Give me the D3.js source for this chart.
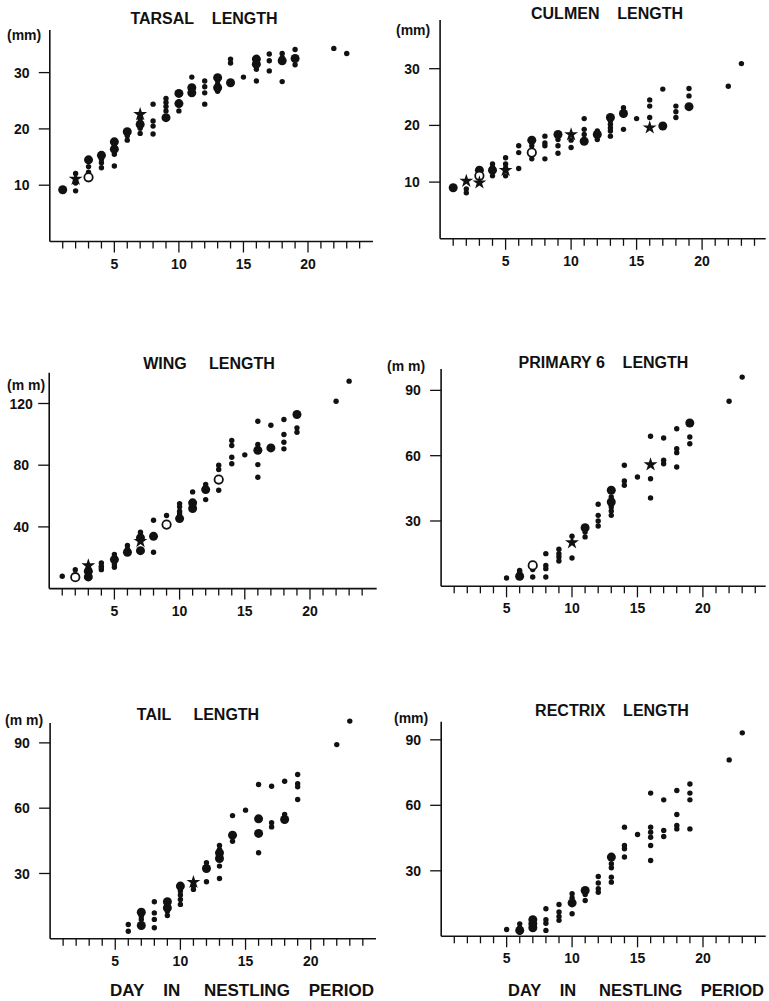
<!DOCTYPE html>
<html><head><meta charset="utf-8">
<script src="https://cdn.jsdelivr.net/npm/d3@7/dist/d3.min.js"></script>
<style>
html,body{margin:0;padding:0;background:#fff;}
svg{display:block;}
text{font-family:"Liberation Sans",Arial,sans-serif;font-weight:bold;fill:#111;}
</style></head>
<body>
<svg id="c" width="769" height="1001"></svg>
<script>
// ---- data: [day, mm, kind]  kind: s=small dot, L=large dot, o=open circle, *=star
const tarsal = [
[1,9.2,"L"],
[2,9.0,"s"],[2,10.4,"s"],[2,11.1,"*"],[2,12.1,"s"],
[3,11.4,"o"],[3,12.3,"s"],[3,13.3,"s"],[3,14.5,"L"],
[4,13.1,"s"],[4,14.0,"s"],[4,14.6,"s"],[4,15.3,"L"],
[5,13.4,"s"],[5,15.5,"s"],[5,16.4,"L"],[5,17.0,"s"],[5,17.7,"L"],
[6,18.0,"s"],[6,18.8,"s"],[6,19.5,"L"],
[7,19.2,"s"],[7,20.1,"s"],[7,20.8,"L"],[7,21.7,"s"],[7,22.6,"*"],
[8,19.1,"s"],[8,20.5,"s"],[8,21.4,"s"],[8,24.4,"s"],
[9,22.0,"L"],[9,23.2,"s"],[9,24.0,"s"],[9,24.7,"s"],[9,25.4,"s"],
[10,23.2,"s"],[10,24.5,"L"],[10,26.3,"L"],
[11,26.4,"L"],[11,26.9,"s"],[11,27.3,"L"],[11,29.2,"s"],
[12,24.4,"s"],[12,26.4,"s"],[12,27.5,"s"],[12,28.5,"s"],
[13,26.7,"s"],[13,27.3,"L"],[13,27.9,"s"],[13,28.5,"s"],[13,29.1,"L"],
[14,28.2,"L"],[14,31.7,"s"],[14,32.4,"s"],
[15,29.2,"s"],
[16,28.5,"s"],[16,30.6,"s"],[16,31.5,"L"],[16,32.4,"L"],
[17,30.3,"s"],[17,32.1,"s"],[17,33.3,"s"],
[18,28.4,"s"],[18,32.1,"L"],[18,32.7,"s"],[18,33.4,"s"],
[19,31.4,"s"],[19,32.5,"L"],[19,34.1,"s"],
[22,34.3,"s"],[23,33.4,"s"]
];
const culmen = [
[1,9.0,"L"],
[2,8.1,"s"],[2,8.8,"s"],[2,10.2,"*"],
[3,9.9,"*"],[3,11.1,"o"],[3,12.1,"L"],
[4,11.1,"s"],[4,12.1,"L"],[4,12.6,"s"],[4,13.2,"s"],
[5,11.1,"s"],[5,12.1,"*"],[5,12.5,"s"],[5,13.2,"s"],[5,14.3,"s"],
[6,12.4,"s"],[6,15.2,"s"],[6,16.4,"s"],
[7,14.1,"s"],[7,15.2,"o"],[7,16.4,"s"],[7,17.4,"L"],
[8,14.1,"s"],[8,16.4,"s"],[8,16.9,"s"],[8,18.1,"s"],
[9,15.1,"s"],[9,16.4,"s"],[9,17.5,"s"],[9,18.4,"L"],
[10,16.1,"s"],[10,17.4,"s"],[10,18.4,"*"],
[11,17.2,"L"],[11,18.4,"s"],[11,19.3,"s"],[11,21.2,"s"],
[12,17.5,"s"],[12,18.4,"L"],[12,19.0,"s"],
[13,18.1,"s"],[13,19.0,"s"],[13,19.6,"s"],[13,20.2,"s"],[13,20.8,"s"],[13,21.4,"L"],
[14,19.3,"s"],[14,22.1,"L"],[14,23.1,"s"],
[15,21.2,"s"],
[16,19.6,"*"],[16,21.4,"s"],[16,23.4,"s"],[16,24.5,"s"],
[17,19.9,"L"],[17,26.4,"s"],
[18,21.4,"s"],[18,22.4,"s"],[18,23.4,"s"],
[19,23.3,"L"],[19,25.2,"s"],[19,26.5,"s"],
[22,26.9,"s"],[23,30.9,"s"]
];
const wing = [
[1,8.0,"s"],
[2,7.4,"o"],[2,12.3,"s"],
[3,7.6,"L"],[3,9.5,"s"],[3,11.2,"L"],[3,14.9,"*"],
[4,12.3,"s"],[4,13.5,"s"],[4,14.5,"s"],[4,16.6,"s"],
[5,13.8,"s"],[5,15.6,"s"],[5,18.8,"L"],[5,22.1,"s"],
[6,23.6,"L"],[6,25.7,"s"],[6,27.9,"s"],
[7,24.6,"L"],[7,30.7,"*"],[7,32.9,"L"],[7,34.4,"s"],[7,36.5,"s"],
[8,23.6,"s"],[8,33.9,"L"],[8,44.3,"s"],
[9,41.5,"o"],[9,47.4,"s"],
[10,45.4,"L"],[10,48.6,"s"],[10,50.2,"s"],[10,53.0,"s"],[10,55.1,"s"],
[11,51.9,"L"],[11,55.6,"L"],[11,62.7,"s"],
[12,57.7,"s"],[12,64.2,"L"],[12,67.5,"s"],
[13,63.8,"s"],[13,70.7,"o"],[13,77.2,"s"],[13,80.0,"s"],
[14,80.9,"s"],[14,85.2,"s"],[14,92.8,"s"],[14,96.0,"s"],
[15,86.7,"s"],
[16,72.2,"s"],[16,80.4,"s"],[16,89.7,"L"],[16,93.4,"s"],[16,108.5,"s"],
[17,91.2,"L"],[17,105.9,"s"],
[18,90.6,"s"],[18,94.9,"s"],[18,99.9,"s"],[18,109.6,"s"],
[19,101.4,"s"],[19,104.2,"s"],[19,112.9,"L"],
[22,121.5,"s"],[23,134.5,"s"]
];
const primary6 = [
[5,3.8,"s"],
[6,4.6,"L"],[6,6.6,"s"],[6,7.3,"s"],
[7,4.3,"s"],[7,7.7,"s"],[7,9.6,"o"],
[8,4.3,"s"],[8,8.1,"s"],[8,9.6,"s"],[8,15.0,"s"],
[9,11.6,"s"],[9,13.5,"s"],[9,15.0,"s"],[9,17.0,"s"],
[10,13.0,"s"],[10,20.1,"*"],[10,23.0,"s"],
[11,22.7,"s"],[11,24.9,"s"],[11,26.9,"L"],
[12,27.7,"s"],[12,30.0,"s"],[12,32.6,"s"],[12,37.7,"s"],
[13,32.6,"s"],[13,34.6,"s"],[13,36.4,"s"],[13,38.7,"L"],[13,41.0,"s"],[13,44.1,"L"],
[14,46.4,"s"],[14,48.4,"s"],[14,55.6,"s"],
[15,50.2,"s"],
[16,40.6,"s"],[16,49.4,"s"],[16,55.9,"*"],[16,68.9,"s"],
[17,56.3,"s"],[17,57.9,"s"],[17,68.1,"s"],
[18,54.8,"s"],[18,61.4,"s"],[18,63.2,"s"],[18,72.4,"s"],
[19,65.5,"s"],[19,68.6,"s"],[19,75.0,"L"],
[22,85.0,"s"],[23,96.1,"s"]
];
const tail = [
[6,3.5,"s"],[6,6.6,"s"],
[7,6.1,"L"],[7,8.9,"s"],[7,10.4,"s"],[7,12.2,"L"],
[8,5.1,"s"],[8,8.9,"s"],[8,11.9,"s"],[8,17.0,"s"],
[9,10.7,"s"],[9,12.7,"s"],[9,14.2,"L"],[9,15.8,"s"],[9,17.0,"L"],
[10,15.8,"s"],[10,18.1,"s"],[10,20.1,"s"],[10,21.9,"s"],[10,24.2,"L"],
[11,22.7,"s"],[11,24.2,"s"],[11,26.0,"*"],
[12,26.2,"s"],[12,32.3,"L"],[12,34.9,"s"],
[13,27.7,"s"],[13,33.4,"s"],[13,36.9,"L"],[13,39.5,"L"],[13,41.0,"s"],[13,42.9,"s"],
[14,44.8,"s"],[14,47.6,"L"],[14,56.6,"s"],
[15,59.1,"s"],
[16,39.5,"s"],[16,48.4,"L"],[16,55.1,"L"],[16,70.9,"s"],
[17,51.4,"s"],[17,53.3,"s"],[17,70.1,"s"],
[18,54.8,"L"],[18,57.1,"s"],[18,72.4,"s"],
[19,64.0,"s"],[19,69.8,"s"],[19,71.2,"s"],[19,75.5,"s"],
[22,89.2,"s"],[23,100.0,"s"]
];
const rectrix = [
[5,3.1,"s"],
[6,1.9,"s"],[6,2.7,"L"],[6,3.9,"s"],[6,5.7,"s"],
[7,3.9,"L"],[7,5.7,"L"],[7,7.6,"L"],
[8,2.7,"s"],[8,6.0,"s"],[8,7.6,"s"],[8,12.6,"s"],
[9,7.3,"s"],[9,9.1,"s"],[9,11.1,"s"],[9,14.6,"s"],
[10,10.3,"s"],[10,15.3,"L"],[10,17.6,"s"],[10,19.5,"s"],
[11,16.4,"s"],[11,19.2,"s"],[11,21.0,"L"],
[12,20.2,"s"],[12,21.8,"s"],[12,24.4,"s"],[12,27.4,"s"],
[13,24.8,"s"],[13,27.1,"s"],[13,31.4,"s"],[13,33.2,"s"],[13,36.3,"L"],
[14,36.3,"s"],[14,40.1,"s"],[14,41.6,"s"],[14,50.0,"s"],
[15,46.6,"s"],
[16,34.7,"s"],[16,41.6,"s"],[16,45.4,"s"],[16,47.7,"s"],[16,50.0,"s"],[16,65.6,"s"],
[17,45.7,"s"],[17,48.5,"s"],[17,62.5,"s"],
[18,49.2,"s"],[18,50.8,"s"],[18,55.8,"s"],[18,66.8,"s"],
[19,49.2,"s"],[19,62.5,"s"],[19,65.6,"s"],[19,69.8,"s"],
[22,80.8,"s"],[23,93.2,"s"]
];

const titles = ["TARSAL\u00a0\u00a0\u00a0\u00a0LENGTH","CULMEN\u00a0\u00a0\u00a0\u00a0LENGTH","WING\u00a0\u00a0\u00a0\u00a0\u00a0LENGTH",
                "PRIMARY 6\u00a0\u00a0\u00a0\u00a0LENGTH","TAIL\u00a0\u00a0\u00a0\u00a0\u00a0LENGTH","RECTRIX\u00a0\u00a0\u00a0\u00a0LENGTH"];
const unitLabels = ["(mm)","(mm)","(m m)","(m m)","(m m)","(mm)"];
const yTicks = [[10,20,30],[10,20,30],[40,80,120],[30,60,90],[30,60,90],[30,60,90]];
const xTickLabels = [5,10,15,20];
const xMinorTicks = d3.range(1,25);
const xLabel = "DAY\u00a0\u00a0\u00a0\u00a0IN\u00a0\u00a0\u00a0\u00a0\u00a0NESTLING\u00a0\u00a0\u00a0\u00a0PERIOD";
const seriesData = [tarsal, culmen, wing, primary6, tail, rectrix];

// ---- layout (pixel geometry of each panel)
const layout = [
 {x0:49.8, dayW:12.91, y0:241.5, ppu:5.63,  yTop:30,    xEnd:373,   tx:204,   ty:23.5,  ux:7,   uy:40},
 {x0:440.1,dayW:13.1,  y0:238.8, ppu:5.67,  yTop:20,    xEnd:765.7, tx:607,   ty:18.5,  ux:396, uy:35},
 {x0:49.2, dayW:13.04, y0:588.6, ppu:1.5425,yTop:372.7, xEnd:376.7, tx:209,   ty:369,   ux:7,   uy:390},
 {x0:441.1,dayW:13.09, y0:586.3, ppu:2.177, yTop:369,   xEnd:765.7, tx:603.5, ty:367.5, ux:387, uy:371},
 {x0:50.1, dayW:13.03, y0:938.8, ppu:2.177, yTop:723,   xEnd:376,   tx:198,   ty:719.5, ux:5,   uy:725, xl:110, xw:264},
 {x0:441.2,dayW:13.09, y0:936.3, ppu:2.183, yTop:721.7, xEnd:765.7, tx:612,   ty:716,   ux:394, uy:723, xl:508, xw:256}
];

const svg = d3.select("#c");
const star = d3.symbol().type(d3.symbolStar).size(60);

seriesData.forEach((data, i) => {
  const L = layout[i];
  const xMax = (L.xEnd - L.x0) / L.dayW;
  const yMax = (L.y0 - L.yTop) / L.ppu;
  const x = d3.scaleLinear().domain([0, xMax]).range([L.x0, L.xEnd]);
  const y = d3.scaleLinear().domain([0, yMax]).range([L.y0, L.yTop]);
  const g = svg.append("g");

  // axes lines
  g.append("line").attr("x1", x(0)).attr("x2", x(xMax)).attr("y1", y(0)).attr("y2", y(0))
    .attr("stroke", "#111").attr("stroke-width", 1.6);
  g.append("line").attr("x1", x(0)).attr("x2", x(0)).attr("y1", y(0)).attr("y2", y(yMax))
    .attr("stroke", "#111").attr("stroke-width", 1.6);

  // x ticks
  g.selectAll(".xt").data(xMinorTicks).join("line")
    .attr("x1", d => x(d)).attr("x2", d => x(d))
    .attr("y1", y(0)).attr("y2", d => y(0) + (d % 5 === 0 ? 11 : 7))
    .attr("stroke", "#111").attr("stroke-width", 1.3);
  g.selectAll(".xl").data(xTickLabels).join("text")
    .attr("x", d => x(d)).attr("y", y(0) + 27)
    .attr("text-anchor", "middle").attr("font-size", 14).text(d => d);

  // y ticks
  g.selectAll(".yt").data(yTicks[i]).join("line")
    .attr("x1", x(0) - 11).attr("x2", x(0))
    .attr("y1", d => y(d)).attr("y2", d => y(d))
    .attr("stroke", "#111").attr("stroke-width", 1.3);
  g.selectAll(".yl").data(yTicks[i]).join("text")
    .attr("x", x(0) - 28).attr("y", d => y(d)).attr("dy", "0.36em")
    .attr("text-anchor", "middle").attr("font-size", 14).text(d => d);

  // titles and unit
  g.append("text").attr("x", L.tx).attr("y", L.ty).attr("text-anchor", "middle")
    .attr("font-size", 16).text(titles[i]);
  g.append("text").attr("x", L.ux).attr("y", L.uy).attr("font-size", 14).text(unitLabels[i]);

  if (L.xl !== undefined) {
    g.append("text").attr("x", L.xl).attr("y", 996).attr("font-size", 16.5)
      .attr("textLength", L.xw).attr("lengthAdjust", "spacingAndGlyphs").text(xLabel);
  }

  // points
  g.selectAll(".ps").data(data.filter(d => d[2] === "s" || d[2] === "L")).join("circle")
    .attr("cx", d => x(d[0])).attr("cy", d => y(d[1]))
    .attr("r", d => d[2] === "L" ? 4.5 : 2.7).attr("fill", "#111");
  g.selectAll(".po").data(data.filter(d => d[2] === "o")).join("circle")
    .attr("cx", d => x(d[0])).attr("cy", d => y(d[1]))
    .attr("r", 4.2).attr("fill", "#fff").attr("stroke", "#111").attr("stroke-width", 1.8);
  g.selectAll(".pst").data(data.filter(d => d[2] === "*")).join("path")
    .attr("d", star).attr("transform", d => `translate(${x(d[0])},${y(d[1])})`)
    .attr("fill", "#111");
});
</script>
</body></html>
